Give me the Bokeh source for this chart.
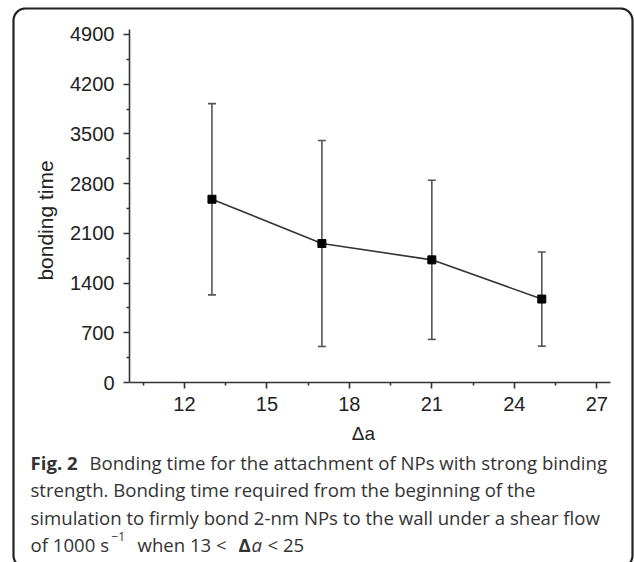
import numpy as np
from bokeh.plotting import figure
from bokeh.models import (ColumnDataSource, FixedTicker, Range1d, Whisker, TeeHead,
                          LinearAxis)
from bokeh.core.properties import value
from bokeh.embed import file_html
from bokeh.resources import INLINE

# ---- data ----
delta_a = [13, 17, 21, 25]
bond_time = [2580, 1957, 1727, 1175]
bond_err = [1347, 1450, 1120, 663]

x_ticks = [12, 15, 18, 21, 24, 27]
x_minor = [10.5, 13.5, 16.5, 19.5, 22.5, 25.5]
y_ticks = [0, 700, 1400, 2100, 2800, 3500, 4200, 4900]
y_minor = [350, 1050, 1750, 2450, 3150, 3850, 4550]

x_title = "\u0394a"
y_title = "bonding time"
caption_bold = "Fig. 2"
caption_line1 = "Bonding time for the attachment of NPs with strong binding"
caption_line2 = "strength. Bonding time required from the beginning of the"
caption_line3 = "simulation to firmly bond 2-nm NPs to the wall under a shear flow"

W, H = 634, 562
PX_L, PX_R, PX_T, PX_B = 129, 610, 29, 382   # plot area in canvas px
XS0, XS1 = 10, 27.5
YS0, YS1 = 0, 4970

kx = (XS1 - XS0) / (PX_R - PX_L)
ky = (YS1 - YS0) / (PX_B - PX_T)

p = figure(width=W, height=H, output_backend="svg", toolbar_location=None,
           x_range=Range1d(XS0 - PX_L * kx, XS1 + (W - PX_R) * kx),
           y_range=Range1d(YS0 - (H - PX_B) * ky, YS1 + PX_T * ky),
           x_axis_location=None, y_axis_location=None, min_border=0)
p.outline_line_color = None
p.grid.visible = False
p.background_fill_color = "white"
p.border_fill_color = "white"
p.extra_x_ranges = {"px": Range1d(0, W)}
p.extra_y_ranges = {"py": Range1d(H, 0)}

src = ColumnDataSource(dict(
    x=delta_a, y=bond_time,
    lo=[m - e for m, e in zip(bond_time, bond_err)],
    hi=[m + e for m, e in zip(bond_time, bond_err)],
))

w = Whisker(source=src, base="x", lower="lo", upper="hi",
            line_color="#555555", line_width=1.6,
            upper_head=TeeHead(size=8, line_color="#555555", line_width=1.6),
            lower_head=TeeHead(size=8, line_color="#555555", line_width=1.6))
p.add_layout(w)
p.line("x", "y", source=src, line_color="#333333", line_width=1.6)
p.scatter("x", "y", source=src, marker="square", size=8,
          fill_color="black", line_color="black")

xaxis = LinearAxis(fixed_location=YS0, bounds=(XS0, XS1),
                   ticker=FixedTicker(ticks=x_ticks, minor_ticks=x_minor))
yaxis = LinearAxis(fixed_location=XS0, bounds=(YS0, YS1),
                   ticker=FixedTicker(ticks=y_ticks, minor_ticks=y_minor))
for ax in (xaxis, yaxis):
    ax.axis_line_color = "#333333"
    ax.axis_line_width = 1.6
    ax.major_tick_line_color = "#333333"
    ax.minor_tick_line_color = "#333333"
    ax.major_tick_line_width = 1.6
    ax.minor_tick_line_width = 1.6
    ax.major_tick_out = 6
    ax.major_tick_in = 0
    ax.minor_tick_out = 3
    ax.minor_tick_in = 0
    ax.major_label_text_font = "Liberation Sans"
    ax.major_label_text_font_size = "20px"
    ax.major_label_text_color = "#222222"

xaxis.major_label_standoff = 8
yaxis.major_label_standoff = 9
p.add_layout(xaxis, "below")
p.add_layout(yaxis, "left")

# axis titles, placed as in the reference
p.text(x=[45], y=[220], text=[y_title], x_range_name="px", y_range_name="py",
       angle=np.pi / 2, text_font=value("Liberation Sans"), text_font_size=value("21px"),
       text_color="#222222", text_align="center", text_baseline="middle")
p.text(x=[363], y=[433], text=[x_title], x_range_name="px", y_range_name="py",
       text_font=value("Liberation Sans"), text_font_size=value("19px"),
       text_color="#222222", text_align="center", text_baseline="middle")


def txt(text, cx, cy, size="18.6px", style="normal"):
    p.text(x=[cx], y=[cy], text=[text], x_range_name="px", y_range_name="py",
           text_font=value("Open Sans"), text_font_size=value(size),
           text_font_style=style, text_color="#333333",
           text_baseline="alphabetic", text_align="left")


# caption
B1 = 461.5
LS = 27.5
txt(caption_bold, 30, B1, style="bold")
txt(caption_line1, 89, B1)
txt(caption_line2, 30, B1 + LS)
txt(caption_line3, 30, B1 + 2 * LS)
y4 = B1 + 3 * LS
txt("of 1000 s", 30, y4)
txt("\u22121", 111, y4 - 8, size="12px")
txt("when 13 <", 137, y4)
txt("\u0394", 238, y4, style="bold")
txt("a", 251, y4, style="italic")
txt("< 25", 267, y4)

# rounded frame around figure and caption
L, R, T, B, r = 13, 632, 8, 567, 12
pts = []
for (cx, cy, a0) in [(R - r, T + r, -90), (R - r, B - r, 0), (L + r, B - r, 90), (L + r, T + r, 180)]:
    ang = np.radians(np.linspace(a0, a0 + 90, 12))
    pts += [(cx + r * np.cos(t), cy + r * np.sin(t)) for t in ang]
pts.append(pts[0])
p.line([q[0] for q in pts], [q[1] for q in pts], x_range_name="px", y_range_name="py",
       line_color="#222222", line_width=2.2)

open("out.html", "w").write(file_html(p, INLINE))
